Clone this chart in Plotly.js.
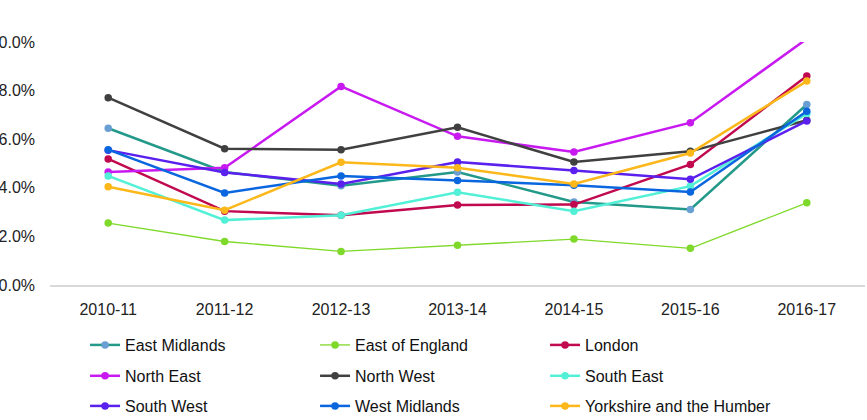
<!DOCTYPE html>
<html>
<head>
<meta charset="utf-8">
<script src="https://cdn.plot.ly/plotly-3.0.1.min.js"></script>
<style>
  html, body { margin: 0; padding: 0; background: #fff; }
  #chart { width: 867px; height: 420px; }
</style>
</head>
<body>
<div id="chart"></div>
<script>
// Academic years on the category axis
const years = ['2010-11', '2011-12', '2012-13', '2013-14', '2014-15', '2015-16', '2016-17'];

// Rates per region (fractions, shown as percentages)
const eastMidlands   = [0.0645, 0.0465, 0.0408, 0.0465, 0.0342, 0.0311, 0.0743];
const eastOfEngland  = [0.0255, 0.0179, 0.0138, 0.0164, 0.0189, 0.0151, 0.0338];
const london         = [0.0519, 0.0304, 0.0287, 0.0329, 0.0331, 0.0496, 0.0860];
const northEast      = [0.0465, 0.0482, 0.0817, 0.0612, 0.0547, 0.0668, 0.1013];
const northWest      = [0.0771, 0.0561, 0.0557, 0.0649, 0.0506, 0.0550, 0.0678];
const southEast      = [0.0449, 0.0267, 0.0287, 0.0382, 0.0304, 0.0407, 0.0705];
const southWest      = [0.0555, 0.0463, 0.0416, 0.0506, 0.0471, 0.0435, 0.0675];
const westMidlands   = [0.0557, 0.0379, 0.0449, 0.0430, 0.0411, 0.0383, 0.0715];
const yorkshire      = [0.0404, 0.0308, 0.0505, 0.0482, 0.0416, 0.0543, 0.0839];

const regionNames = ['East Midlands', 'East of England', 'London',
                     'North East', 'North West', 'South East',
                     'South West', 'West Midlands', 'Yorkshire and the Humber'];
const regionValues = [eastMidlands, eastOfEngland, london,
                      northEast, northWest, southEast,
                      southWest, westMidlands, yorkshire];

const lineColors   = ['#23998a', '#7fd92a', '#c0094f', '#c81af0', '#404040',
                      '#52f0d6', '#5a20ee', '#0a66de', '#fcb81a'];
const markerColors = ['#6a9fd3', '#7fd92a', '#c0094f', '#c81af0', '#404040',
                      '#52f0d6', '#5a20ee', '#0a66de', '#fcb81a'];
const lineWidths   = [2.5, 1.3, 2.5, 2.5, 2.5, 2.5, 2.5, 2.5, 2.5];

// Three legend rows of three entries each
const legendIds = ['legend', 'legend', 'legend', 'legend2', 'legend2', 'legend2',
                   'legend3', 'legend3', 'legend3'];

const traces = regionNames.map((name, i) => ({
  type: 'scatter',
  mode: 'lines+markers',
  name: name,
  x: years,
  y: regionValues[i],
  line: { color: lineColors[i], width: lineWidths[i] },
  marker: { color: markerColors[i], size: 7.5 },
  cliponaxis: false,
  legend: legendIds[i],
  hoverinfo: 'x+y+name'
}));

const legendFont = { family: 'Liberation Sans, Arial, sans-serif', size: 16, color: '#111' };
function rowLegend(y) {
  return {
    orientation: 'h',
    x: 0.043, xanchor: 'left',
    y: y, yanchor: 'middle',
    entrywidth: 185, entrywidthmode: 'pixels',
    font: legendFont,
    bgcolor: 'rgba(0,0,0,0)',
    borderwidth: 0,
    traceorder: 'normal'
  };
}

const layout = {
  width: 867,
  height: 420,
  margin: { l: 50, r: 2, t: 42, b: 135, autoexpand: false },
  paper_bgcolor: '#ffffff',
  plot_bgcolor: '#ffffff',
  font: { family: 'Liberation Sans, Arial, sans-serif', size: 16, color: '#222' },
  showlegend: true,
  xaxis: {
    type: 'category',
    range: [-0.5, 6.5],
    showgrid: false,
    zeroline: false,
    showline: true,
    linecolor: '#d9d9d9',
    linewidth: 1.5,
    ticks: '',
    ticklabelstandoff: 9,
    fixedrange: true
  },
  yaxis: {
    range: [0, 0.10],
    dtick: 0.02,
    tick0: 0,
    tickformat: '.1%',
    showgrid: false,
    zeroline: false,
    showline: false,
    ticks: '',
    ticklabelstandoff: 14,
    fixedrange: true
  },
  legend: rowLegend(-0.247),
  legend2: rowLegend(-0.374),
  legend3: rowLegend(-0.498)
};

Plotly.newPlot('chart', traces, layout, { displayModeBar: false, staticPlot: true });
</script>
</body>
</html>
